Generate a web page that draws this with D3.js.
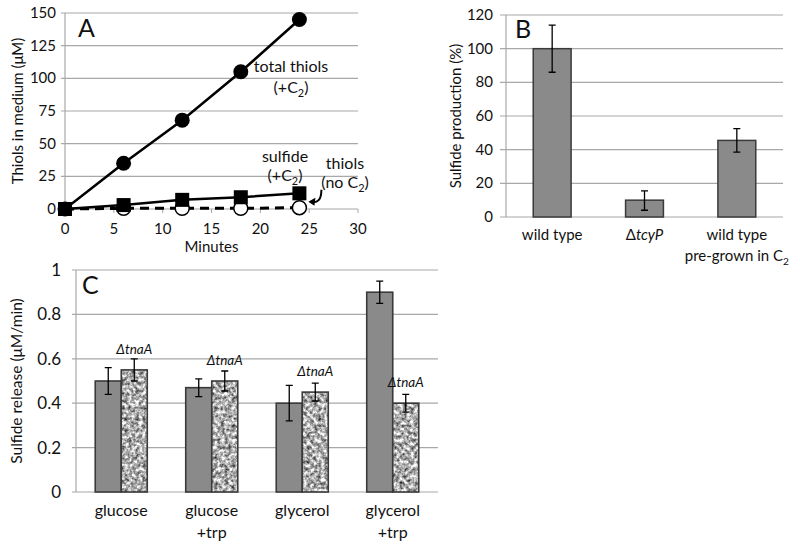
<!DOCTYPE html>
<html><head><meta charset="utf-8">
<script src="https://cdn.jsdelivr.net/npm/d3@7"></script>
<style>
body{margin:0;background:#fff;}
text{font-family:Lato,"Open Sans",sans-serif;fill:#111;}
</style></head>
<body><svg id="c" width="800" height="546"></svg>
<script>
// ---------- Panel A data ----------
const minutes = [0, 6, 12, 18, 24];
const totalThiols = [0, 35, 68, 105, 145];
const sulfideC2 = [0, 3, 7, 9, 12];
const thiolsNoC2 = [0, 0.5, 0.5, 0.5, 1];
const aYTicks = [0, 25, 50, 75, 100, 125, 150];
const aXTicks = [0, 5, 10, 15, 20, 25, 30];

// ---------- Panel B data ----------
const bCategories = ["wild type", "ΔtcyP", "wild type pre-grown in C2"];
const bValues = [100, 10, 45.5];
const bErrLow = [86, 4, 38.5];
const bErrHigh = [114, 15.5, 52.5];
const bYTicks = [0, 20, 40, 60, 80, 100, 120];

// ---------- Panel C data ----------
const cCategories = ["glucose", "glucose +trp", "glycerol", "glycerol +trp"];
const cWildType = [0.50, 0.47, 0.40, 0.90];
const cWildErr = [0.06, 0.04, 0.08, 0.05];
const cTnaA = [0.55, 0.50, 0.45, 0.40];
const cTnaAErr = [0.05, 0.045, 0.04, 0.04];
const cYTicks = [0, 0.2, 0.4, 0.6, 0.8, 1];

const svg = d3.select("#c");
const grid = "#a8a8a8";
const barFill = "#8a8a8a";
const barStroke = "#3a3a3a";

// texture filter
const defs = svg.append("defs");
const f = defs.append("filter").attr("id","granite").attr("x",0).attr("y",0).attr("width",1).attr("height",1)
  .attr("color-interpolation-filters","sRGB");
f.append("feTurbulence").attr("type","fractalNoise").attr("baseFrequency",0.28).attr("numOctaves",3).attr("seed",5).attr("result","n");
f.append("feColorMatrix").attr("in","n").attr("type","matrix")
  .attr("values","1.4 0 0 0 -0.02  1.4 0 0 0 -0.02  1.4 0 0 0 -0.02  0 0 0 0 1").attr("result","g");
f.append("feComposite").attr("in","g").attr("in2","SourceGraphic").attr("operator","in");

function sub(t, main, s, fs){
  t.append("tspan").text(main);
  t.append("tspan").text(s).attr("font-size", fs*0.68).attr("dy", 4);
}

// ================= Panel A =================
const xA = d3.scaleLinear([0,30],[65,358]);
const yA = d3.scaleLinear([0,150],[209,13]);
const gA = svg.append("g");
gA.selectAll("line.grid").data(aYTicks).join("line")
  .attr("x1",61).attr("x2",xA(30)).attr("y1",d=>yA(d)).attr("y2",d=>yA(d))
  .attr("stroke",grid).attr("stroke-width",1.2);
gA.append("line").attr("x1",xA(0)).attr("x2",xA(0)).attr("y1",yA(150)).attr("y2",yA(0)).attr("stroke",grid).attr("stroke-width",1.2);
gA.selectAll("line.xt").data(aXTicks).join("line")
  .attr("x1",d=>xA(d)).attr("x2",d=>xA(d)).attr("y1",yA(0)).attr("y2",yA(0)+4).attr("stroke",grid);
gA.selectAll("text.yt").data(aYTicks).join("text")
  .attr("x",56).attr("y",d=>yA(d)+5).attr("text-anchor","end").attr("font-size",15).text(d=>d);
gA.selectAll("text.xt").data(aXTicks).join("text")
  .attr("x",d=>xA(d)).attr("y",yA(0)+25).attr("text-anchor","middle").attr("font-size",15).text(d=>d);
gA.append("text").attr("x",xA(15)).attr("y",252).attr("text-anchor","middle").attr("font-size",15).text("Minutes");
gA.append("text").attr("transform",`translate(23,${yA(75)}) rotate(-90)`).attr("text-anchor","middle").attr("font-size",15).text("Thiols in medium (μM)");
gA.append("text").attr("x",78).attr("y",37).attr("font-size",25).text("A");

const line = d3.line();
const ptsTot = minutes.map((m,i)=>[xA(m),yA(totalThiols[i])]);
const ptsSul = minutes.map((m,i)=>[xA(m),yA(sulfideC2[i])]);
const ptsNo = minutes.map((m,i)=>[xA(m),yA(thiolsNoC2[i])]);
gA.append("path").attr("d",line(ptsNo)).attr("fill","none").attr("stroke","#000").attr("stroke-width",3).attr("stroke-dasharray","9,6");
gA.append("path").attr("d",line(ptsSul)).attr("fill","none").attr("stroke","#000").attr("stroke-width",2.5);
gA.append("path").attr("d",line(ptsTot)).attr("fill","none").attr("stroke","#000").attr("stroke-width",2.5);
gA.selectAll("circle.no").data(ptsNo.slice(1)).join("circle")
  .attr("cx",d=>d[0]).attr("cy",d=>d[1]).attr("r",7).attr("fill","#fff").attr("stroke","#000").attr("stroke-width",1.5);
gA.selectAll("circle.tot").data(ptsTot).join("circle")
  .attr("cx",d=>d[0]).attr("cy",d=>d[1]).attr("r",7.5).attr("fill","#000");
gA.selectAll("rect.sul").data(ptsSul).join("rect")
  .attr("x",d=>d[0]-7).attr("y",d=>d[1]-7).attr("width",14).attr("height",14).attr("fill","#000");

// annotations
const t1 = gA.append("text").attr("x",291).attr("y",72).attr("text-anchor","middle").attr("font-size",16).text("total thiols");
const t2 = gA.append("text").attr("x",291).attr("y",93).attr("text-anchor","middle").attr("font-size",16); sub(t2,"(+C","2",16); t2.append("tspan").attr("dy",-4).text(")");
gA.append("text").attr("x",285).attr("y",162).attr("text-anchor","middle").attr("font-size",16).text("sulfide");
const t3 = gA.append("text").attr("x",285).attr("y",181).attr("text-anchor","middle").attr("font-size",16); sub(t3,"(+C","2",16); t3.append("tspan").attr("dy",-4).text(")");
gA.append("text").attr("x",345).attr("y",169).attr("text-anchor","middle").attr("font-size",16).text("thiols");
const t4 = gA.append("text").attr("x",345).attr("y",188).attr("text-anchor","middle").attr("font-size",16); sub(t4,"(no C","2",16); t4.append("tspan").attr("dy",-4).text(")");
// arrow
const ax = xA(24), ay = yA(thiolsNoC2[4]);
gA.append("path").attr("d",`M${ax+22},${ay-18} Q${ax+22},${ay-3} ${ax+11},${ay-6}`)
  .attr("fill","none").attr("stroke","#000").attr("stroke-width",2);
gA.append("path").attr("d",`M${ax+9},${ay-6} L${ax+16},${ay-10} L${ax+15},${ay-2} Z`).attr("fill","#000");

// ================= Panel B =================
const xB = d3.scaleBand(bCategories,[506,783]).paddingInner(0.59).paddingOuter(0.295);
const yB = d3.scaleLinear([0,120],[217,15]);
const gB = svg.append("g");
gB.selectAll("line.grid").data(bYTicks).join("line")
  .attr("x1",500).attr("x2",783).attr("y1",d=>yB(d)).attr("y2",d=>yB(d)).attr("stroke",grid).attr("stroke-width",1.2);
gB.append("line").attr("x1",506).attr("x2",506).attr("y1",yB(120)).attr("y2",yB(0)).attr("stroke",grid).attr("stroke-width",1.2);
gB.selectAll("text.yt").data(bYTicks).join("text")
  .attr("x",493).attr("y",d=>yB(d)+5).attr("text-anchor","end").attr("font-size",15).text(d=>d);
gB.append("text").attr("transform",`translate(461,${yB(60)}) rotate(-90)`).attr("text-anchor","middle").attr("font-size",15).text("Sulfide production (%)");
gB.append("text").attr("x",515).attr("y",38).attr("font-size",25).text("B");
gB.selectAll("rect.bar").data(bCategories).join("rect")
  .attr("x",d=>xB(d)).attr("width",xB.bandwidth()).attr("y",(d,i)=>yB(bValues[i])).attr("height",(d,i)=>yB(0)-yB(bValues[i]))
  .attr("fill",barFill).attr("stroke",barStroke).attr("stroke-width",1.5);
bCategories.forEach((c,i)=>{
  const cx = xB(c)+xB.bandwidth()/2;
  gB.append("path").attr("d",`M${cx-3.5},${yB(bErrHigh[i])}H${cx+3.5}M${cx},${yB(bErrHigh[i])}V${yB(bErrLow[i])}M${cx-3.5},${yB(bErrLow[i])}H${cx+3.5}`)
    .attr("stroke","#000").attr("stroke-width",1.3).attr("fill","none");
});
const bc = c=>xB(c)+xB.bandwidth()/2;
gB.append("text").attr("x",bc(bCategories[0])).attr("y",240).attr("text-anchor","middle").attr("font-size",15).text("wild type");
const td = gB.append("text").attr("x",bc(bCategories[1])).attr("y",240).attr("text-anchor","middle").attr("font-size",15);
td.append("tspan").text("Δ"); td.append("tspan").attr("font-style","italic").text("tcyP");
gB.append("text").attr("x",bc(bCategories[2])).attr("y",240).attr("text-anchor","middle").attr("font-size",15).text("wild type");
const tp = gB.append("text").attr("x",bc(bCategories[2])).attr("y",261).attr("text-anchor","middle").attr("font-size",15);
sub(tp,"pre-grown in C","2",15);

// ================= Panel C =================
const xC = d3.scaleBand(cCategories,[76,438]).paddingInner(0.425).paddingOuter(0.2125);
const xSub = d3.scaleBand([0,1],[0,xC.bandwidth()]);
const yC = d3.scaleLinear([0,1],[492,270]);
const gC = svg.append("g");
gC.selectAll("line.grid").data(cYTicks).join("line")
  .attr("x1",72).attr("x2",438).attr("y1",d=>yC(d)).attr("y2",d=>yC(d)).attr("stroke",grid).attr("stroke-width",1.2);
gC.append("line").attr("x1",76).attr("x2",76).attr("y1",yC(1)).attr("y2",yC(0)).attr("stroke",grid).attr("stroke-width",1.2);
gC.selectAll("text.yt").data(cYTicks).join("text")
  .attr("x",61).attr("y",d=>yC(d)+6).attr("text-anchor","end").attr("font-size",17).text(d=>d);
gC.append("text").attr("transform",`translate(22,${yC(0.5)}) rotate(-90)`).attr("text-anchor","middle").attr("font-size",15.5).text("Sulfide release (μM/min)");
gC.append("text").attr("x",82).attr("y",294).attr("font-size",25).text("C");

cCategories.forEach((c,i)=>{
  const x0 = xC(c), w = xSub.bandwidth();
  gC.append("rect").attr("x",x0+xSub(0)).attr("width",w).attr("y",yC(cWildType[i])).attr("height",yC(0)-yC(cWildType[i]))
    .attr("fill",barFill).attr("stroke",barStroke).attr("stroke-width",1.6);
  gC.append("rect").attr("x",x0+xSub(1)).attr("width",w).attr("y",yC(cTnaA[i])).attr("height",yC(0)-yC(cTnaA[i]))
    .attr("fill","#000").attr("filter","url(#granite)");
  gC.append("rect").attr("x",x0+xSub(1)).attr("width",w).attr("y",yC(cTnaA[i])).attr("height",yC(0)-yC(cTnaA[i]))
    .attr("fill","none").attr("stroke",barStroke).attr("stroke-width",1.6);
  [[0,cWildType[i],cWildErr[i]],[1,cTnaA[i],cTnaAErr[i]]].forEach(([k,v,e])=>{
    const cx = x0+xSub(k)+w/2, hi=yC(v+e), lo=yC(v-e);
    gC.append("path").attr("d",`M${cx-3.5},${hi}H${cx+3.5}M${cx},${hi}V${lo}M${cx-3.5},${lo}H${cx+3.5}`)
      .attr("stroke","#000").attr("stroke-width",1.3).attr("fill","none");
  });
  const tl = gC.append("text").attr("x",x0+xSub(1)+w/2).attr("y",yC(cTnaA[i])-16).attr("text-anchor","middle").attr("font-size",13.5).attr("font-style","italic");
  tl.append("tspan").text("Δ"); tl.append("tspan").text("tnaA");
  const parts = c.split(" ");
  parts.forEach((p,j)=>{
    gC.append("text").attr("x",x0+xC.bandwidth()/2).attr("y",516+j*22).attr("text-anchor","middle").attr("font-size",16).text(p);
  });
});
</script></body></html>
